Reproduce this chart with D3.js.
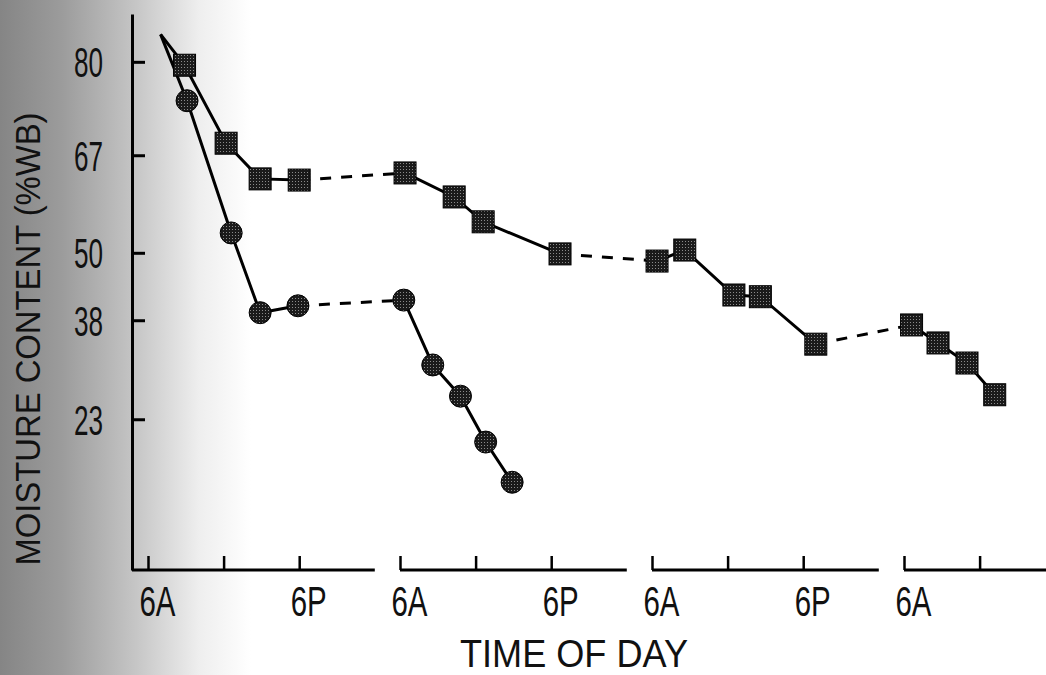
<!DOCTYPE html>
<html lang="en">
<head>
<meta charset="utf-8">
<script src="https://cdnjs.cloudflare.com/ajax/libs/d3/7.8.5/d3.min.js"></script>
<style>
body { margin: 0; background: #fff; }
svg text { font-family: "Liberation Sans", Arial, sans-serif; fill: #111; }
</style>
</head>
<body>
<script>
// values: time = hours from midnight of day 1, moisture in %WB
var startTime = 7, startMC = 83;
var squareTime = [8.9, 12.2, 14.9, 18.0, 30.4, 34.3, 36.6, 42.7, 54.4, 56.6, 60.5, 62.6, 67.0, 78.6, 80.7, 83.0, 85.2];
var squareMC   = [79.6, 68.9, 63.1, 62.9, 64.1, 60.0, 55.6, 49.8, 48.5, 50.5, 42.4, 42.1, 34.0, 37.2, 34.2, 31.0, 26.3];
var circleTime = [9.1, 12.6, 14.9, 17.9, 30.3, 32.6, 34.8, 36.8, 38.9];
var circleMC   = [75.1, 53.6, 39.3, 40.5, 41.5, 30.7, 26.1, 20.2, 15.9];

var yTickValues = [80, 67, 50, 38, 23];
var days = [0, 1, 2, 3];
var tickHours = [6, 12, 18];
var tickLabels = ["6A", "", "6P"];

var w = 1046, h = 675;
var axisX = 132, axisY = 570;

// night hours (midnight-6A) are cut out of the time axis: 20 shown hours per day
function tOf(hr) {
  var d = Math.floor(hr / 24);
  return d * 20 + (hr - d * 24) - 6;
}
function dayOf(hr) { return Math.floor(hr / 24); }
// the moisture axis is logarithmic on the dry basis
function dryBasis(mc) { return mc / (100 - mc); }

var xScale = d3.scaleLinear().domain([0, 72]).range([148, 148 + 12.6 * 72]);
var yScale = d3.scaleLog().domain([0.1, 5.66]).range([axisY, 14]);

var svg = d3.select("body").append("svg")
  .attr("width", w)
  .attr("height", h);

// scanned shading on the left
var defs = svg.append("defs");
var grad = defs.append("linearGradient").attr("id", "shade")
  .attr("x1", "0").attr("x2", "1").attr("y1", "0").attr("y2", "0");
grad.append("stop").attr("offset", "0").attr("stop-color", "#858585");
grad.append("stop").attr("offset", "0.06").attr("stop-color", "#9c9c9c");
grad.append("stop").attr("offset", "0.13").attr("stop-color", "#c6c6c6");
grad.append("stop").attr("offset", "0.19").attr("stop-color", "#eeeeee");
grad.append("stop").attr("offset", "0.24").attr("stop-color", "#ffffff");
svg.append("rect").attr("width", w).attr("height", h).attr("fill", "url(#shade)");

// halftone fill for the markers
var pat = defs.append("pattern").attr("id", "dots")
  .attr("width", 3).attr("height", 3).attr("patternUnits", "userSpaceOnUse");
pat.append("rect").attr("width", 3).attr("height", 3).attr("fill", "#1a1a1a");
pat.append("rect").attr("x", 1).attr("y", 1).attr("width", 1).attr("height", 1).attr("fill", "#8a8a8a");

// y axis
var yAxis = svg.append("g")
  .attr("transform", "translate(" + axisX + ",0)")
  .call(d3.axisLeft(yScale)
    .tickValues(yTickValues.map(dryBasis))
    .tickFormat(function(d, i) { return yTickValues[i]; })
    .tickSizeInner(-13)
    .tickSizeOuter(0)
    .tickPadding(29));
yAxis.select(".domain").attr("stroke", "#000").attr("stroke-width", 3);
yAxis.selectAll(".tick line").attr("stroke", "#000").attr("stroke-width", 3);
yAxis.selectAll(".tick text")
  .attr("font-size", 42)
  .attr("dy", "0.36em")
  .attr("textLength", 29)
  .attr("lengthAdjust", "spacingAndGlyphs")
  .style("font-family", "'Liberation Sans', Arial, sans-serif")
  .attr("fill", "#111");

// broken time axis, one piece per day
days.forEach(function(d) {
  var x0 = d === 0 ? axisX : xScale(d * 20);
  var x1 = xScale(d * 20 + 18);
  svg.append("line")
    .attr("x1", x0).attr("x2", x1)
    .attr("y1", axisY).attr("y2", axisY)
    .attr("stroke", "#000").attr("stroke-width", 3);

  var ticks = tickHours.filter(function(hr) { return xScale(d * 20 + hr - 6) < w; });
  var g = svg.append("g")
    .attr("transform", "translate(0," + axisY + ")")
    .call(d3.axisBottom(xScale)
      .tickValues(ticks.map(function(hr) { return d * 20 + hr - 6; }))
      .tickFormat(function(v, i) { return tickLabels[tickHours.indexOf(ticks[i])]; })
      .tickSizeInner(-14)
      .tickSizeOuter(0)
      .tickPadding(16));
  g.select(".domain").remove();
  g.selectAll(".tick line").attr("stroke", "#000").attr("stroke-width", 2.5);
  g.selectAll(".tick text")
    .attr("font-size", 42)
    .attr("dx", 9)
    .attr("textLength", function(t) { return t === "" ? null : 36; })
    .attr("lengthAdjust", "spacingAndGlyphs")
    .style("font-family", "'Liberation Sans', Arial, sans-serif")
    .attr("fill", "#111");
});

// axis titles
svg.append("text")
  .attr("transform", "translate(40,339) rotate(-90)")
  .attr("text-anchor", "middle")
  .attr("font-size", 35)
  .attr("textLength", 453)
  .attr("lengthAdjust", "spacingAndGlyphs")
  .text("MOISTURE CONTENT (%WB)");

svg.append("text")
  .attr("x", 574)
  .attr("y", 667)
  .attr("text-anchor", "middle")
  .attr("font-size", 38)
  .attr("textLength", 228)
  .attr("lengthAdjust", "spacingAndGlyphs")
  .text("TIME OF DAY");

// build points, including the shared unmarked starting point
function series(times, mcs) {
  var pts = [{ hr: startTime, mc: startMC, start: true }];
  times.forEach(function(t, i) { pts.push({ hr: t, mc: mcs[i] }); });
  return pts;
}
var squares = series(squareTime, squareMC);
var circles = series(circleTime, circleMC);

var line = d3.line()
  .x(function(p) { return xScale(tOf(p.hr)); })
  .y(function(p) { return yScale(dryBasis(p.mc)); });

function drawLines(pts) {
  // solid within a day
  d3.groups(pts, function(p) { return dayOf(p.hr); }).forEach(function(grp) {
    svg.append("path")
      .attr("d", line(grp[1]))
      .attr("fill", "none")
      .attr("stroke", "#000")
      .attr("stroke-width", 3);
  });
  // dashed overnight
  for (var i = 1; i < pts.length; i++) {
    if (dayOf(pts[i].hr) !== dayOf(pts[i - 1].hr)) {
      svg.append("path")
        .attr("d", line([pts[i - 1], pts[i]]))
        .attr("fill", "none")
        .attr("stroke", "#000")
        .attr("stroke-width", 3)
        .attr("stroke-dasharray", "11,10");
    }
  }
}
drawLines(squares);
drawLines(circles);

svg.selectAll("rect.sq")
  .data(squares.filter(function(p) { return !p.start; }))
  .enter()
  .append("rect")
  .attr("class", "sq")
  .attr("x", function(p) { return xScale(tOf(p.hr)) - 11; })
  .attr("y", function(p) { return yScale(dryBasis(p.mc)) - 11; })
  .attr("width", 22)
  .attr("height", 22)
  .attr("fill", "url(#dots)")
  .attr("stroke", "#000")
  .attr("stroke-width", 1);

svg.selectAll("circle.ci")
  .data(circles.filter(function(p) { return !p.start; }))
  .enter()
  .append("circle")
  .attr("class", "ci")
  .attr("cx", function(p) { return xScale(tOf(p.hr)); })
  .attr("cy", function(p) { return yScale(dryBasis(p.mc)); })
  .attr("r", 11)
  .attr("fill", "url(#dots)")
  .attr("stroke", "#000")
  .attr("stroke-width", 1);
</script>
</body>
</html>
